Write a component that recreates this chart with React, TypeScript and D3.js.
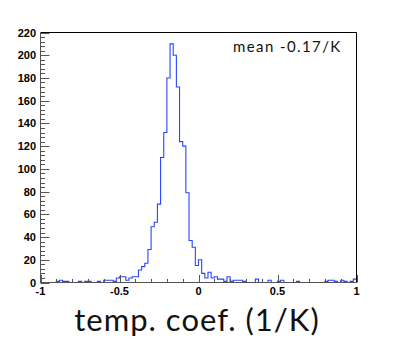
import React, { useEffect, useRef } from "react";
import * as d3 from "d3";

// histogram of temperature coefficients, 100 bins from -1 to 1
const xRange = [-1, 1];
const binWidth = 0.02;
const counts = [
  0, 0, 0, 0, 0, 1, 2, 1, 1, 0,
  0, 0, 1, 0, 1, 1, 0, 0, 1, 0,
  2, 2, 2, 1, 4, 5, 5, 2, 4, 5,
  5, 11, 14, 17, 29, 49, 53, 69, 110, 132,
  180, 210, 200, 172, 124, 120, 79, 37, 31, 15,
  20, 8, 4, 9, 4, 5, 3, 3, 1, 5,
  1, 2, 2, 2, 1, 0, 0, 0, 3, 0,
  0, 0, 2, 0, 0, 1, 2, 0, 0, 0,
  0, 1, 0, 0, 0, 0, 0, 0, 0, 0,
  1, 2, 2, 1, 0, 2, 1, 0, 1, 3,
];
const yMax = 220;
const xTickLabels = ["-1", "-0.5", "0", "0.5", "1"];
const meanLabel = "mean -0.17/K";
const xTitle = "temp. coef. (1/K)";

const App = () => {
  const ref = useRef<SVGSVGElement>(null);

  useEffect(() => {
    const svg = d3.select(ref.current);
    svg.selectAll("*").remove();

    const left = 40.5;
    const right = 356.5;
    const top = 32.5;
    const bottom = 282.5;

    const x = d3.scaleLinear().domain(xRange).range([left, right]);
    const y = d3.scaleLinear().domain([0, yMax]).range([bottom, top]);

    svg.append("rect").attr("width", 398).attr("height", 363).attr("fill", "#fff");

    // histogram outline
    const pts: [number, number][] = counts.map((c, i) => [xRange[0] + i * binWidth, c]);
    pts.push([xRange[1], counts[counts.length - 1]]);
    svg
      .append("path")
      .datum(pts)
      .attr("fill", "none")
      .attr("stroke", "#2846ff")
      .attr("stroke-width", 1.1)
      .attr(
        "d",
        d3
          .line<[number, number]>()
          .x((d) => x(d[0]))
          .y((d) => y(d[1]))
          .curve(d3.curveStepAfter)
      );

    // frame
    svg
      .append("path")
      .attr("d", `M${left},${top}H${right}V${bottom}`)
      .attr("fill", "none")
      .attr("stroke", "#000")
      .attr("stroke-width", 1);
    svg
      .append("path")
      .attr("d", `M${left},${top}V${bottom}H${right}`)
      .attr("fill", "none")
      .attr("stroke", "#555")
      .attr("stroke-width", 1);

    // y ticks
    const yMajor = d3.range(0, yMax + 1, 20);
    const yMinor = d3.range(0, yMax + 1, 4);
    svg
      .append("g")
      .selectAll("line")
      .data(yMinor)
      .enter()
      .append("line")
      .attr("x1", left)
      .attr("x2", (d) => left + (yMajor.includes(d) ? 9 : 4.5))
      .attr("y1", (d) => Math.round(y(d)) + 0.5)
      .attr("y2", (d) => Math.round(y(d)) + 0.5)
      .attr("stroke", "#555");
    svg
      .append("g")
      .selectAll("text")
      .data(yMajor)
      .enter()
      .append("text")
      .attr("x", 36)
      .attr("y", (d) => y(d) + 4)
      .attr("text-anchor", "end")
      .style("font-family", "Liberation Sans, Arial, sans-serif")
      .style("font-size", "11px")
      .style("font-weight", "bold")
      .text((d) => String(d));

    // x ticks
    const xMajor = x.ticks(4);
    const xMinor = x.ticks(20);
    svg
      .append("g")
      .selectAll("line")
      .data(xMinor)
      .enter()
      .append("line")
      .attr("x1", (d) => Math.round(x(d)) + 0.5)
      .attr("x2", (d) => Math.round(x(d)) + 0.5)
      .attr("y1", bottom)
      .attr("y2", (d) => bottom - (xMajor.some((m) => Math.abs(m - d) < 1e-9) ? 7.5 : 3.5))
      .attr("stroke", "#555");
    svg
      .append("g")
      .selectAll("text")
      .data(xMajor)
      .enter()
      .append("text")
      .attr("x", (d) => x(d))
      .attr("y", 295)
      .attr("text-anchor", "middle")
      .style("font-family", "Liberation Sans, Arial, sans-serif")
      .style("font-size", "11px")
      .style("font-weight", "bold")
      .text((d, i) => xTickLabels[i]);

    svg
      .append("text")
      .attr("x", 233)
      .attr("y", 52)
      .style("font-family", "Lato, Noto Sans, sans-serif")
      .style("font-size", "15px")
      .style("letter-spacing", "1.4px")
      .style("fill", "#111")
      .text(meanLabel);

    svg
      .append("text")
      .attr("x", 197)
      .attr("y", 331)
      .attr("text-anchor", "middle")
      .style("font-family", "Lato, Noto Sans, sans-serif")
      .style("font-size", "31px")
      .style("letter-spacing", "1px")
      .style("fill", "#111")
      .text(xTitle);
  }, []);

  return (
    <svg
      ref={ref}
      width={398}
      height={363}
      style={{ position: "absolute", left: 0, top: 0 }}
    />
  );
};

export default App;
